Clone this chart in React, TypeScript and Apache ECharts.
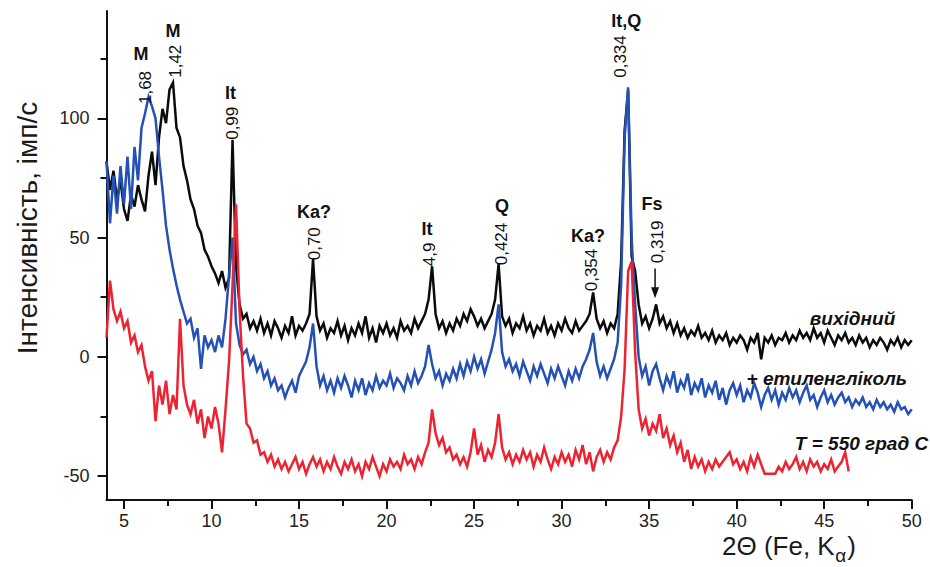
import React, { useEffect, useRef } from 'react';
import * as echarts from 'echarts';

// 2θ sampling grid of the digitised patterns (degrees)
const ANGLE_START = 4;
const ANGLE_STEP = 0.2;

// intensity, imp/s — "вихідний" (4.0 … 50.0)
const blackCounts = [
  82, 70, 78, 66, 74, 62, 57, 68, 63, 72,
  66, 61, 76, 86, 72, 92, 104, 98, 112, 115,
  96, 92, 80, 74, 66, 62, 55, 52, 45, 42,
  38, 35, 31, 36, 29, 33, 91, 38, 22, 16,
  18, 12, 15, 11, 16, 10, 14, 9, 15, 12,
  8, 13, 10, 17, 9, 13, 11, 14, 18, 41,
  17, 11, 14, 8, 12, 10, 15, 9, 13, 7,
  12, 9, 14, 10, 17, 8, 12, 6, 13, 10,
  14, 9, 12, 8, 15, 11, 13, 10, 16, 12,
  15, 18, 24, 38, 18, 12, 15, 10, 14, 11,
  16, 13, 18, 15, 20, 17, 13, 16, 12, 15,
  18, 24, 39, 17, 13, 16, 10, 14, 12, 17,
  11, 14, 9, 13, 11, 16, 10, 13, 9, 14,
  11, 16, 12, 10, 15, 11, 13, 15, 18, 27,
  16, 12, 15, 10, 14, 12, 18, 40, 95, 112,
  42, 36, 22, 14, 17, 12, 16, 22, 14, 17,
  12, 15, 10, 14, 9, 12, 8, 11, 9, 13,
  8, 10, 7, 11, 6, 9, 7, 10, 5, 8,
  6, 9, 7, 3, 8, 6, 10, -1, 8, 6,
  9, 5, 8, 7, 10, 6, 9, 7, 11, 8,
  10, 7, 12, 8, 10, 6, 11, 8, 5, 9,
  7, 10, 6, 8, 5, 9, 6, 8, 4, 7,
  5, 8, 6, 3, 7, 5, 8, 4, 7, 5,
  7,
];

// "+ етиленгліколь" (4.0 … 50.0)
const blueCounts = [
  82, 56, 76, 60, 80, 64, 84, 62, 88, 74,
  96, 102, 109, 105, 100, 84, 70, 55, 45, 37,
  30, 24, 19, 14, 16, 8, 12, -5, 9, 4,
  7, 2, 9, 4, 16, 34, 50, 14, 5, 1,
  3, -3, 0, -6, -3, -9, -6, -12, -9, -14,
  -12, -17, -13, -10, -15, -8, -5, -2, 4, 14,
  -4, -12, -8, -14, -10, -15, -9, -13, -8, -12,
  -17, -10, -14, -9, -16, -11, -14, -8, -13, -10,
  -12, -7, -13, -9, -11, -14, -8, -12, -6, -11,
  -8, -4, 5, -3, -9, -6, -12, -7, -10, -5,
  -9, -3, -8, -2, -6, 0, -5, -1, -7, -2,
  3, 10, 22, 2, -4, -1, -6, -3, -8, -2,
  -6, -10, -4, -8, -3, -7, -11, -5, -9, -4,
  -8, -12, -6, -10, -5, -9, -4, -1, 3, 10,
  -2, -8, -4, -9, -5, -1, 6, 30, 92, 113,
  50, 22, 0, -8, -4, -12, -6, -3, -9, -14,
  -8, -12, -6, -15, -10, -13, -7, -16, -11, -14,
  -9, -17, -12, -15, -10, -18, -13, -20, -14, -11,
  -16, -12, -19, -14, -17, -11, -15, -21, -16, -13,
  -18, -14, -20, -15, -18, -13, -17, -14, -19, -15,
  -12, -18, -16, -21, -17, -14, -19, -16, -20, -17,
  -15, -19, -17, -21, -18, -20, -17, -21, -19, -22,
  -18, -21, -19, -22, -20, -23, -19, -22, -21, -24,
  -22,
];

// "T = 550 град C" (4.0 … 46.4)
const redCounts = [
  8, 32, 20, 15, 19, 12, 15, 6, 9, 2,
  5, -4, -10, -6, -27, -12, -20, -10, -24, -16,
  -22, 16, -12, -20, -24, -18, -28, -22, -34, -25,
  -30, -21, -28, -40, -22, -2, 30, 64, 20, -8,
  -28, -30, -36, -35, -41, -40, -44, -41, -46, -43,
  -47, -44, -48, -45, -42, -47, -44, -49, -45, -42,
  -46, -43, -48, -44, -47, -42, -46, -49, -44, -47,
  -43, -48, -45, -50, -44, -47, -42, -46, -50, -45,
  -48, -43, -46, -44, -47, -41, -45, -43, -47, -42,
  -45, -40, -36, -22, -32, -37, -34, -40, -38, -43,
  -41, -45, -42, -46, -40, -30, -41, -37, -44, -39,
  -42, -36, -24, -38, -43, -40, -45, -41, -44, -39,
  -43, -40, -46, -41, -44, -38, -43, -47, -42, -45,
  -40, -44, -41, -46, -39, -43, -37, -45, -40, -48,
  -42, -39, -44, -40, -43, -38, -35, -25, -5, 36,
  40, 2, -22, -30, -26, -33, -28, -31, -24, -34,
  -30, -37, -33, -40, -36, -44, -39, -47, -42, -46,
  -43, -48, -44, -47, -43, -46, -44, -42, -40, -45,
  -43, -47, -44, -48, -42, -46, -41, -45, -49, -49,
  -49, -49, -46, -48, -44, -47, -45, -42, -47, -44,
  -48, -43, -46, -44, -48, -45, -47, -43, -48, -46,
  -44, -40, -48,
];

const seriesNames = ['вихідний', '+ етиленгліколь', 'T = 550 град C'];

const xTickValues = [5, 10, 15, 20, 25, 30, 35, 40, 45, 50];
const xMinorTickValues = [7.5, 12.5, 17.5, 22.5, 27.5, 32.5, 37.5, 42.5, 47.5];
const yTickValues = [-50, 0, 50, 100];
const yMinorTickValues = [-25, 25, 75, 125];

// peak annotations: d-spacing (nm) and phase
const peakSpacings = ['1,68', '1,42', '0,99', '0,70', '4,9', '0,424', '0,354', '0,334', '0,319'];
const peakPhases = ['M', 'M', 'It', 'Ka?', 'It', 'Q', 'Ka?', 'It,Q', 'Fs'];
// anchor of the spacing label (2θ, intensity at label foot)
const spacingAnchorX = [6.25, 7.97, 11.2, 15.86, 22.43, 26.54, 31.7, 33.37, 35.46];
const spacingAnchorY = [106, 117, 91, 40.5, 38, 38.4, 27.5, 117, 39.3];
// anchor of the phase label centre
const phaseAnchorX = [5.97, 7.8, 11.08, 15.86, 22.31, 26.6, 31.51, 33.69, 35.17];
const phaseAnchorY = [127, 136.5, 110.5, 60.6, 53.4, 63.2, 50.6, 141, 63.9];
// Fs arrow (2θ, top, tip)
const arrowX = 35.34;
const arrowTop = 37.1;
const arrowTip = 24.6;

// curve names placed at right end (right edge 2θ, centre intensity)
const curveNameX = [49.06, 49.74, 50.94];
const curveNameY = [16.2, -8.9, -36.2];

// x-axis title parts
const xTitleMain = '2Θ (Fe, K';
const xTitleSub = 'α';
const xTitleEnd = ')';

const FONT = "'Liberation Sans', Arial, Helvetica, sans-serif";
const COLORS = ['#0b0b0b', '#2351b6', '#ec2431'];

const toPairs = (vals: number[]) =>
  vals.map((v, i) => [Math.round((ANGLE_START + i * ANGLE_STEP) * 100) / 100, v]);

const measure = (text: string, size: number) => {
  const ctx = document.createElement('canvas').getContext('2d');
  if (!ctx) return text.length * size * 0.55;
  ctx.font = `${size}px ${FONT}`;
  return ctx.measureText(text).width;
};

export default function App() {
  const ref = useRef<HTMLDivElement>(null);

  useEffect(() => {
    if (!ref.current) return;
    const chart = echarts.init(ref.current, null, { renderer: 'svg' });
    const axisColor = '#111';
    const labelColor = '#222';

    const option: any = {
      animation: false,
      backgroundColor: '#ffffff',
      textStyle: { fontFamily: FONT },
      grid: {
        left: 106.5,
        right: 18.3,
        top: 11,
        bottom: 67,
        containLabel: false,
        outerBoundsMode: 'none',
      },
      xAxis: [
        {
          type: 'value',
          min: 4,
          max: 50,
          position: 'bottom',
          axisLine: { show: true, onZero: false, lineStyle: { color: axisColor, width: 2 } },
          axisTick: { show: true, customValues: xTickValues, length: 9, lineStyle: { color: axisColor, width: 2 } },
          axisLabel: { customValues: xTickValues, fontSize: 18, color: labelColor, margin: 12, fontFamily: FONT },
          splitLine: { show: false },
        },
        {
          type: 'value',
          min: 4,
          max: 50,
          position: 'bottom',
          axisLine: { show: false, onZero: false },
          axisTick: { show: true, customValues: xMinorTickValues, length: 6, lineStyle: { color: axisColor, width: 2 } },
          axisLabel: { show: false },
          splitLine: { show: false },
        },
      ],
      yAxis: [
        {
          type: 'value',
          min: -60,
          max: 145,
          position: 'left',
          axisLine: { show: true, onZero: false, lineStyle: { color: axisColor, width: 2 } },
          axisTick: { show: true, customValues: yTickValues, length: 9, lineStyle: { color: axisColor, width: 2 } },
          axisLabel: { customValues: yTickValues, fontSize: 18, color: labelColor, margin: 17, fontFamily: FONT },
          splitLine: { show: false },
        },
        {
          type: 'value',
          min: -60,
          max: 145,
          position: 'left',
          axisLine: { show: false, onZero: false },
          axisTick: { show: true, customValues: yMinorTickValues, length: 6, lineStyle: { color: axisColor, width: 2 } },
          axisLabel: { show: false },
          splitLine: { show: false },
        },
      ],
      series: [blackCounts, blueCounts, redCounts].map((vals, i) => ({
        name: seriesNames[i],
        type: 'line',
        xAxisIndex: 0,
        yAxisIndex: 0,
        data: toPairs(vals),
        showSymbol: false,
        symbol: 'none',
        silent: true,
        z: 2 + i,
        lineStyle: { color: COLORS[i], width: 2.5, join: 'miter' },
        itemStyle: { color: COLORS[i] },
      })),
    };

    chart.setOption(option);

    const toPx = (x: number, y: number) =>
      chart.convertToPixel({ seriesIndex: 0 }, [x, y]) as number[];

    const graphics: any[] = [];

    peakSpacings.forEach((txt, i) => {
      const [px, py] = toPx(spacingAnchorX[i], spacingAnchorY[i]);
      graphics.push({
        type: 'text',
        x: px,
        y: py,
        rotation: Math.PI / 2,
        z: 100,
        style: {
          text: txt,
          fontSize: 17,
          fontFamily: FONT,
          fill: '#111',
          align: 'left',
          verticalAlign: 'middle',
        },
      });
      const [qx, qy] = toPx(phaseAnchorX[i], phaseAnchorY[i]);
      graphics.push({
        type: 'text',
        x: qx,
        y: qy,
        z: 100,
        style: {
          text: peakPhases[i],
          fontSize: 18,
          fontWeight: 'bold',
          fontFamily: FONT,
          fill: '#111',
          align: 'center',
          verticalAlign: 'middle',
        },
      });
    });

    // Fs arrow
    const [ax, ay1] = toPx(arrowX, arrowTop);
    const [, ay2] = toPx(arrowX, arrowTip);
    graphics.push({
      type: 'line',
      z: 100,
      shape: { x1: ax, y1: ay1, x2: ax, y2: ay2 - 8 },
      style: { stroke: '#111', lineWidth: 1.5 },
    });
    graphics.push({
      type: 'polygon',
      z: 100,
      shape: { points: [[ax - 4, ay2 - 11], [ax + 4, ay2 - 11], [ax, ay2]] },
      style: { fill: '#111' },
    });

    // curve names
    seriesNames.forEach((name, i) => {
      const [cx, cy] = toPx(curveNameX[i], curveNameY[i]);
      graphics.push({
        type: 'text',
        x: cx,
        y: cy,
        z: 100,
        style: {
          text: name,
          fontSize: 19,
          fontWeight: 'bold',
          fontStyle: 'italic',
          fontFamily: FONT,
          fill: '#111',
          align: 'right',
          verticalAlign: 'middle',
        },
      });
    });

    // axis titles
    graphics.push({
      type: 'text',
      x: 27,
      y: 228,
      rotation: Math.PI / 2,
      z: 100,
      style: {
        text: 'Інтенсивність, імп/с',
        fontSize: 28,
        fontFamily: FONT,
        fill: '#1a1a1a',
        align: 'center',
        verticalAlign: 'middle',
      },
    });
    const titleX = 722;
    const titleY = 546;
    const mainW = measure(xTitleMain, 26);
    const subW = measure(xTitleSub, 19);
    graphics.push({
      type: 'text',
      x: titleX,
      y: titleY,
      z: 100,
      style: { text: xTitleMain, fontSize: 26, fontFamily: FONT, fill: '#1a1a1a', align: 'left', verticalAlign: 'middle' },
    });
    graphics.push({
      type: 'text',
      x: titleX + mainW + 0.5,
      y: titleY + 9,
      z: 100,
      style: { text: xTitleSub, fontSize: 19, fontFamily: FONT, fill: '#1a1a1a', align: 'left', verticalAlign: 'middle' },
    });
    graphics.push({
      type: 'text',
      x: titleX + mainW + subW + 1.5,
      y: titleY,
      z: 100,
      style: { text: xTitleEnd, fontSize: 26, fontFamily: FONT, fill: '#1a1a1a', align: 'left', verticalAlign: 'middle' },
    });

    chart.setOption({ graphic: graphics });

    return () => chart.dispose();
  }, []);

  return (
    <div
      ref={ref}
      style={{ position: 'fixed', left: 0, top: 0, width: 930, height: 567, background: '#fff' }}
    />
  );
}
